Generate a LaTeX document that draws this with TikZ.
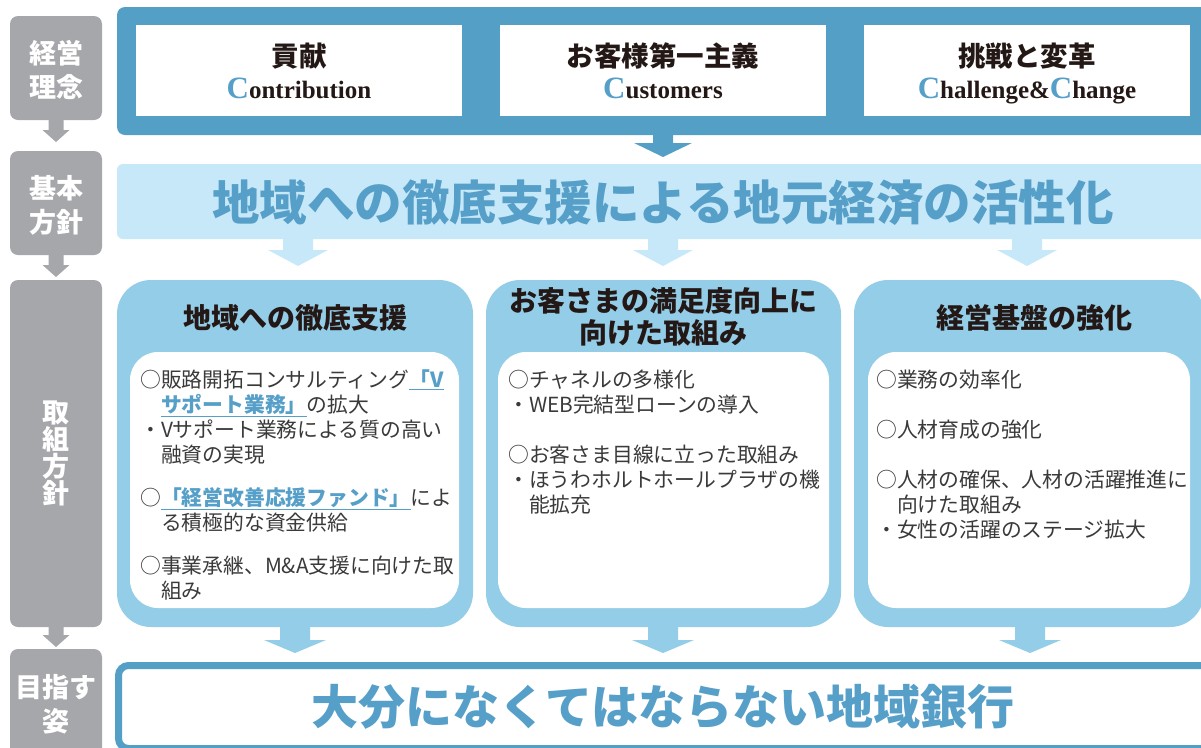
\documentclass[tikz,border=0pt]{standalone}
\usepackage{fontspec}
\setmainfont{Liberation Serif}
\newfontfamily\jp{Noto Sans CJK JP}
\definecolor{dblue}{HTML}{549FC6}
\definecolor{bandc}{HTML}{C7E8F8}
\definecolor{colc}{HTML}{93CDE7}
\definecolor{grayc}{HTML}{A6A7AB}
\definecolor{cblue}{HTML}{569FC8}
\definecolor{txt}{HTML}{3A3A3A}
\definecolor{ink}{HTML}{231815}
\newcommand\myarrow[7]{\fill[#7] ({#1-#5},#2) -- ({#1+#5},#2) -- ({#1+#5},#3) -- ({#1+#6},#3) -- (#1,#4) -- ({#1-#6},#3) -- ({#1-#5},#3) -- cycle;}
\newcommand\lnk[1]{\textcolor{cblue}{\bfseries\underline{#1}}}
\newcommand\ind{\hspace*{1em}}
\tikzset{
  lbl/.style={text=white, font=\jp\bfseries\fontsize{27}{34}\selectfont, align=center, inner sep=0},
  ttl/.style={text=ink, font=\jp\bfseries\fontsize{27.5}{27.5}\selectfont, inner sep=0},
  eng/.style={text=ink, font=\bfseries\fontsize{25}{25}\selectfont, inner sep=0, anchor=base},
  head/.style={text=ink, font=\jp\bfseries\fontsize{28}{32}\selectfont, align=center, inner sep=0},
  body/.style={text=txt, font=\jp\fontsize{20.8}{25}\selectfont, align=left, inner sep=0, anchor=north west},
  big/.style={text=cblue, font=\jp\bfseries\fontsize{47.5}{47.5}\selectfont, inner sep=0},
}
\newcommand\bigC{{\color{cblue}\fontsize{31}{31}\selectfont C}}
\begin{document}
\begin{tikzpicture}[x=1pt,y=-1pt]
\useasboundingbox (0,0) rectangle (1201,747);
\clip (0,0) rectangle (1201,747);
% left gray labels
\fill[grayc, rounded corners=8] (10,16) rectangle (102,120);
\fill[grayc, rounded corners=8] (10,151) rectangle (102,255);
\fill[grayc, rounded corners=8] (10,280) rectangle (102,627);
\fill[grayc, rounded corners=8] (10,649) rectangle (102,780);
\myarrow{56}{119}{130}{142}{7.5}{13.5}{grayc}
\myarrow{56}{254}{265}{277}{7.5}{13.5}{grayc}
\myarrow{56}{626}{635}{647}{7.5}{13.5}{grayc}
\node[lbl] (l1) at (56,70) {経営\\理念};
\node[lbl] (l2) at (56,205) {基本\\方針};
\node[lbl, font=\jp\bfseries\fontsize{27}{27}\selectfont] (l3) at (56,453) {取\\組\\方\\針};
\node[lbl] (l4) at (56,704) {目指す\\姿};
% top frame
\fill[dblue, rounded corners=8] (117,7) rectangle (1230,135);
\fill[white] (136,25) rectangle (462,116);
\fill[white] (500,25) rectangle (826,116);
\fill[white] (864,25) rectangle (1190,116);
\node[ttl] (p1) at (299,56) {貢献};
\node[eng] (e1) at (299,98) {\bigC ontribution};
\node[ttl] (p2) at (663,56) {お客様第一主義};
\node[eng] (e2) at (663,98) {\bigC ustomers};
\node[ttl] (p3) at (1027,56) {挑戦と変革};
\node[eng] (e3) at (1027,98) {\bigC hallenge\&\bigC hange};
\myarrow{663}{134}{143}{157}{10}{29}{dblue}
% band
\fill[bandc, rounded corners=6] (117,164) rectangle (1230,239);
\node[big] (b) at (663,203) {地域への徹底支援による地元経済の活性化};
\myarrow{298}{238}{250}{266}{15}{30}{bandc}
\myarrow{663}{238}{250}{266}{15}{30}{bandc}
\myarrow{1027}{238}{250}{266}{15}{30}{bandc}
% columns
\fill[colc, rounded corners=34] (117,280) rectangle (473,627);
\fill[colc, rounded corners=34] (486,280) rectangle (841,627);
\fill[colc, rounded corners=34] (854,280) rectangle (1204,627);
\fill[white, rounded corners=28] (130,352) rectangle (459,608);
\fill[white, rounded corners=28] (498,352) rectangle (829,608);
\fill[white, rounded corners=28] (868,352) rectangle (1190,608);
\node[head] (h1) at (295,318) {地域への徹底支援};
\node[head] (h2) at (663,317) {お客さまの満足度向上に\\向けた取組み};
\node[head] (h3) at (1034,318) {経営基盤の強化};
\node[body] (t1) at (140,370) {○販路開拓コンサルティング\lnk{「V}\\
\ind\lnk{サポート業務」}の拡大\\
・Vサポート業務による質の高い\\
\ind 融資の実現\\[18pt]
○\lnk{「経営改善応援ファンド」}によ\\
\ind る積極的な資金供給\\[18pt]
○事業承継、M\&A支援に向けた取\\
\ind 組み};
\node[body] (t2) at (508,370) {○チャネルの多様化\\
・WEB完結型ローンの導入\\[25pt]
○お客さま目線に立った取組み\\
・ほうわホルトホールプラザの機\\
\ind 能拡充};
\node[body] (t3) at (876,370) {○業務の効率化\\[25pt]
○人材育成の強化\\[25pt]
○人材の確保、人材の活躍推進に\\
\ind 向けた取組み\\
・女性の活躍のステージ拡大};
\myarrow{295}{626}{640}{653}{15}{31}{colc}
\myarrow{663}{626}{640}{653}{15}{31}{colc}
\myarrow{1030}{626}{640}{653}{15}{31}{colc}
% bottom frame
\draw[dblue, line width=7, fill=white, rounded corners=10] (118.5,665.5) rectangle (1230,748.5);
\node[big, font=\jp\bfseries\fontsize{47}{47}\selectfont] (v) at (663,707) {大分になくてはならない地域銀行};
\end{tikzpicture}
\end{document}
